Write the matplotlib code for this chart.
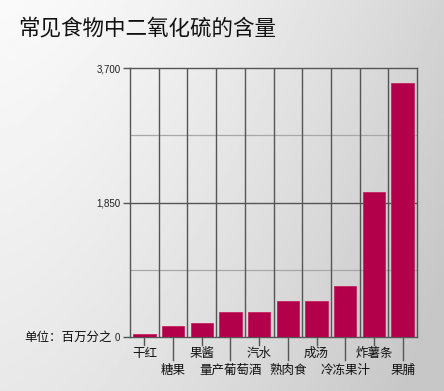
import numpy as np
import matplotlib.pyplot as plt

plt.rcParams['font.family'] = ['Noto Sans CJK SC', 'DejaVu Sans']

foods = ['干红', '糖果', '果酱', '量产葡萄酒', '汽水', '熟肉食', '成汤', '冷冻果汁', '炸薯条', '果脯']
so2_ppm = [40, 150, 200, 350, 350, 500, 500, 700, 2000, 3500]
y_ticks = [0, 1850, 3700]
y_ticklabels = ['0', '1,850', '3,700']

fig = plt.figure(figsize=(4.44, 3.91), dpi=100)

# grey gradient background, lighter top-left, darker right
bg = fig.add_axes([0, 0, 1, 1], zorder=-10)
yy, xx = np.mgrid[0:1:200j, 0:1:200j]
shade = 0.98 - 0.20 * np.clip(0.75 * xx ** 1.5 + 0.35 * yy, 0, 1)
bg.imshow(shade, cmap='gray', vmin=0, vmax=1, aspect='auto', origin='upper', extent=[0, 1, 0, 1])
bg.axis('off')

ax = fig.add_axes([0.293, 0.138, 0.646, 0.688])
ax.patch.set_alpha(0)

x = np.arange(len(foods))
ax.bar(x, so2_ppm, width=0.78, color='#b3004b', edgecolor='#c4245f', linewidth=0.6, zorder=3)

ax.set_xlim(-0.5, len(foods) - 0.5)
ax.set_ylim(0, 3700)

# grid
for v in [925, 2775]:
    ax.axhline(v, color='#a8a8a8', lw=0.9, zorder=1)
ax.axhline(1850, color='#555555', lw=1.0, zorder=1)
for b in np.arange(0.5, len(foods) - 0.5, 1):
    ax.axvline(b, color='#555555', lw=1.0, zorder=1)

for s in ax.spines.values():
    s.set_color('#555555')
    s.set_linewidth(1.0)

ax.set_yticks(y_ticks)
ax.set_yticklabels(y_ticklabels, fontsize=7, color='#222222', family='Liberation Sans')
ax.tick_params(axis='y', length=5, width=1, color='#555555', pad=2)

ax.set_xticks([])
# alternating two-row category labels
for i, name in enumerate(foods):
    low = i % 2 == 1
    tick_len = 0.085 if low else 0.03
    ax.plot([i, i], [0, -tick_len], transform=ax.get_xaxis_transform(), color='#555555',
            lw=1.0, clip_on=False)
    ax.text(i, -0.06 if not low else -0.125, name, transform=ax.get_xaxis_transform(),
            ha='center', va='center', fontsize=9, color='#111111')

ax.text(-0.062, 0, '单位：百万分之', transform=ax.get_yaxis_transform(),
        ha='right', va='center', fontsize=9, color='#111111')

fig.text(0.04, 0.928, '常见食物中二氧化硫的含量', fontsize=15.5, color='#111111', va='center', ha='left')

fig.savefig('out.png', dpi=100)
